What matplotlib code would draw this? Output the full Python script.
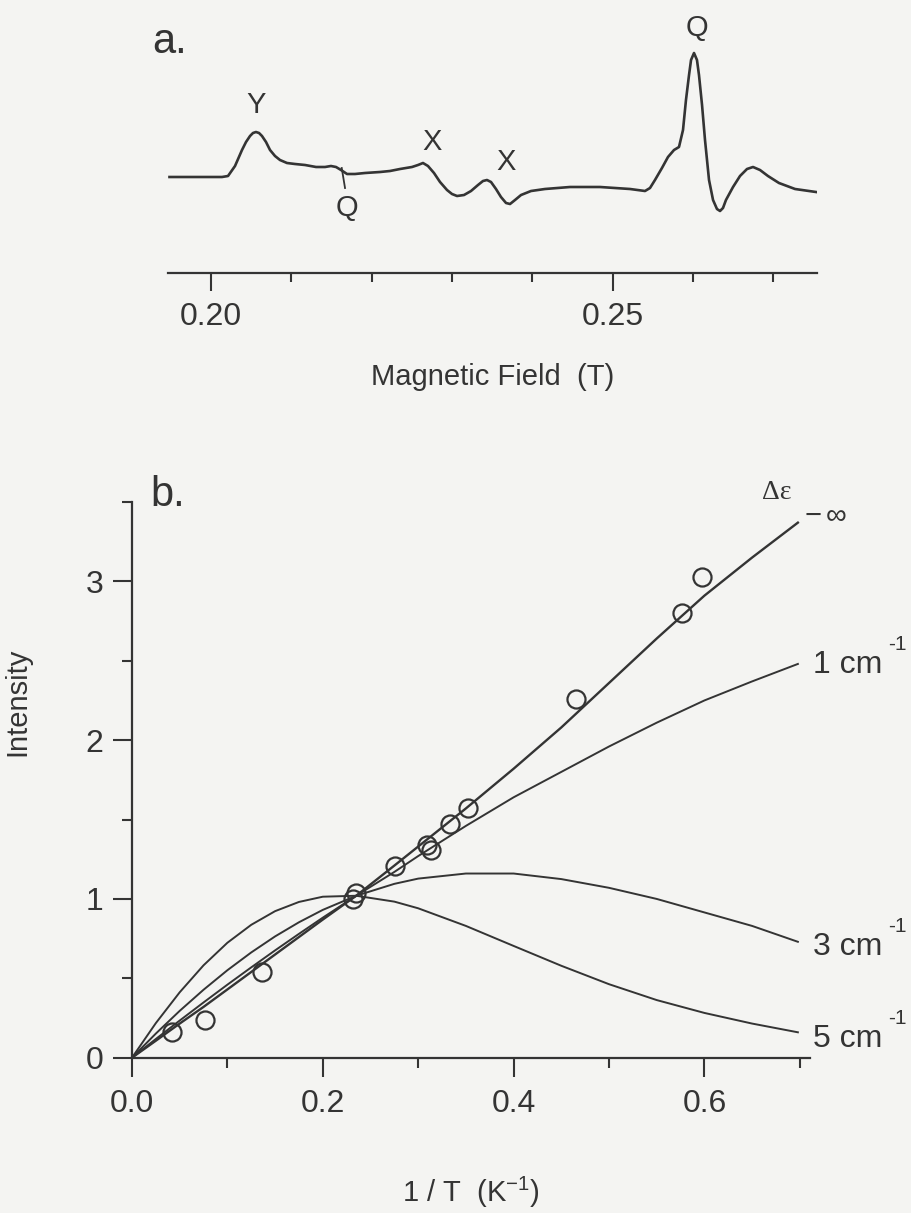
import matplotlib
matplotlib.use('Agg')
import matplotlib.pyplot as plt
from matplotlib.ticker import MultipleLocator, FormatStrFormatter

plt.rcParams['font.family'] = ['Liberation Sans', 'DejaVu Sans']
plt.rcParams['mathtext.fontset'] = 'custom'
plt.rcParams['mathtext.rm'] = 'Liberation Sans'
plt.rcParams['mathtext.it'] = 'Liberation Sans'
plt.rcParams['mathtext.default'] = 'regular'

INK   = '#343434'
PAPER = '#f4f4f2'

# ── panel a: EPR trace (field in T, signal in arbitrary units) ──
field = [0.19483, 0.19863, 0.20137, 0.20212, 0.20299, 0.20386, 0.20436, 0.20486,
         0.20523, 0.20560, 0.20598, 0.20635, 0.20685, 0.20735, 0.20797, 0.20859,
         0.20946, 0.21046, 0.21171, 0.21308, 0.21420, 0.21494, 0.21557, 0.21619,
         0.21694, 0.21793, 0.21918, 0.22105, 0.22229, 0.22354, 0.22503, 0.22578,
         0.22640, 0.22702, 0.22777, 0.22852, 0.22939, 0.23001, 0.23064, 0.23151,
         0.23238, 0.23325, 0.23387, 0.23437, 0.23487, 0.23549, 0.23611, 0.23674,
         0.23724, 0.23786, 0.23861, 0.23985, 0.24159, 0.24471, 0.24844, 0.25218,
         0.25405, 0.25467, 0.25529, 0.25616, 0.25691, 0.25766, 0.25828, 0.25878,
         0.25915, 0.25953, 0.25978, 0.26015, 0.26052, 0.26077, 0.26115, 0.26152,
         0.26202, 0.26252, 0.26301, 0.26339, 0.26376, 0.26413, 0.26501, 0.26588,
         0.26675, 0.26750, 0.26837, 0.26936, 0.27073, 0.27273, 0.27534]
signal = [0, 0, 0, 1, 11, 27, 35, 41,
          44, 45, 44, 41, 35, 27, 21, 17,
          14, 13, 12, 10, 10, 11, 10, 7,
          3, 3, 4, 5, 6, 8, 10, 12,
          14, 11, 4, -5, -13, -17, -19, -18,
          -14, -8, -4, -3, -5, -12, -20, -26,
          -27, -23, -18, -14, -12, -10, -10, -12,
          -14, -11, -3, 9, 20, 27, 30, 47,
          77, 102, 117, 124, 117, 102, 72, 37,
          -3, -23, -32, -34, -31, -23, -10, 1,
          8, 10, 7, 1, -6, -12, -15]

peak_labels = ['Y', 'Q', 'X', 'X', 'Q']
peak_field  = [0.20560, 0.21690, 0.22748, 0.23669, 0.26052]
peak_signal = [72, -31, 35, 15, 149]

# ── panel b: intensity vs 1/T ──
inv_T = [0.042, 0.077, 0.136, 0.232, 0.235, 0.276, 0.309, 0.313, 0.333, 0.352,
         0.465, 0.577, 0.598]
I_obs = [0.16, 0.24, 0.54, 1.00, 1.04, 1.21, 1.34, 1.31, 1.47, 1.57,
         2.26, 2.80, 3.03]

x_curve = [0, 0.025, 0.05, 0.075, 0.1, 0.125, 0.15, 0.175, 0.2, 0.235,
           0.275, 0.3, 0.35, 0.4, 0.45, 0.5, 0.55, 0.6, 0.65, 0.698]
I_minf = [0, 0.107, 0.215, 0.32, 0.43, 0.54, 0.65, 0.76, 0.87, 1.02,
          1.21, 1.33, 1.57, 1.82, 2.08, 2.36, 2.64, 2.91, 3.15, 3.37]
I_1cm  = [0, 0.118, 0.234, 0.348, 0.46, 0.569, 0.676, 0.78, 0.882, 1.02,
          1.17, 1.27, 1.46, 1.64, 1.80, 1.96, 2.11, 2.25, 2.37, 2.48]
I_3cm  = [0, 0.152, 0.295, 0.428, 0.551, 0.663, 0.764, 0.853, 0.931, 1.02,
          1.095, 1.128, 1.16, 1.16, 1.125, 1.07, 1.0, 0.915, 0.83, 0.73]
I_5cm  = [0, 0.218, 0.412, 0.582, 0.724, 0.837, 0.923, 0.981, 1.014, 1.02,
          0.983, 0.941, 0.830, 0.704, 0.579, 0.463, 0.363, 0.282, 0.215, 0.16]

cm_labels = ['1 cm', '3 cm', '5 cm']
cm_label_y = [2.424, 0.648, 0.07]

W, H = 911, 1213
fig = plt.figure(figsize=(W / 100, H / 100), dpi=100, facecolor=PAPER)

def box(x0, y0, x1, y1):
    # pixel box (top-left origin) -> figure fraction
    return [x0 / W, 1 - y1 / H, (x1 - x0) / W, (y1 - y0) / H]

# ── panel a ──
axa = fig.add_axes(box(168, 20, 817, 273))
axa.set_facecolor('none')
axa.plot(field, signal, color=INK, lw=1.9, solid_joinstyle='round')
axa.plot([0.21628, 0.21669], [9, -11], color=INK, lw=1.3)
for lab, fx, sy in zip(peak_labels, peak_field, peak_signal):
    axa.text(fx, sy, lab, ha='center', va='center', fontsize=21, color=INK)
axa.set_xlim(0.194645, 0.275467)
axa.set_ylim(-96, 157)
for s in ['left', 'right', 'top']:
    axa.spines[s].set_visible(False)
axa.spines['bottom'].set_color(INK)
axa.spines['bottom'].set_linewidth(1.6)
axa.set_yticks([])
axa.xaxis.set_major_locator(MultipleLocator(0.05))
axa.xaxis.set_minor_locator(MultipleLocator(0.01))
axa.xaxis.set_major_formatter(FormatStrFormatter('%.2f'))
axa.tick_params(axis='x', which='major', direction='out', length=13, width=1.5,
                colors=INK, labelsize=23, pad=8)
axa.tick_params(axis='x', which='minor', direction='out', length=6.5, width=1.5,
                colors=INK)
axa.set_xlabel('Magnetic Field  (T)', fontsize=21, color=INK, labelpad=22)
fig.text(152 / W, 1 - 42 / H, 'a.', fontsize=30, color=INK, va='center', ha='left')

# ── panel b ──
axb = fig.add_axes(box(132, 502, 810, 1057.7))
axb.set_facecolor('none')
axb.plot(x_curve, I_minf, color=INK, lw=1.7)
axb.plot(x_curve, I_1cm, color=INK, lw=1.4)
axb.plot(x_curve, I_3cm, color=INK, lw=1.4)
axb.plot(x_curve, I_5cm, color=INK, lw=1.4)
axb.plot(inv_T, I_obs, 'o', ms=13, mfc='none', mec=INK, mew=1.6)

axb.text(0.704, 3.375, r'$-\,\infty$', ha='left', va='baseline', fontsize=21, color=INK)
for lab, ly in zip(cm_labels, cm_label_y):
    t = axb.text(0.714, ly, lab, ha='left', va='baseline', fontsize=23, color=INK)
    # raised "-1" exponent, as in the original typesetting
    axb.annotate('-1', xy=(1, 1), xycoords=t, xytext=(4, -3),
                 textcoords='offset points', ha='left', va='bottom',
                 fontsize=15, color=INK)
axb.text(0.676, 3.52, 'Δε', ha='center', va='baseline', fontsize=20, color=INK,
         family=['Liberation Serif', 'DejaVu Serif'])
axb.set_xlim(0, 0.7107)
axb.set_ylim(0, 3.5)
for s in ['right', 'top']:
    axb.spines[s].set_visible(False)
for s in ['left', 'bottom']:
    axb.spines[s].set_color(INK)
    axb.spines[s].set_linewidth(1.6)
axb.xaxis.set_major_locator(MultipleLocator(0.2))
axb.xaxis.set_minor_locator(MultipleLocator(0.1))
axb.yaxis.set_major_locator(MultipleLocator(1))
axb.yaxis.set_minor_locator(MultipleLocator(0.5))
axb.xaxis.set_major_formatter(FormatStrFormatter('%.1f'))
axb.tick_params(which='major', direction='out', length=13.5, width=1.5,
                colors=INK, labelsize=23)
axb.tick_params(which='minor', direction='out', length=7, width=1.5, colors=INK)
axb.tick_params(axis='x', which='major', pad=9)
axb.tick_params(axis='y', which='major', pad=7)
axb.set_xlabel(r'1 / T  (K$^{-1}$)', fontsize=21, color=INK, labelpad=40)
axb.set_ylabel('Intensity', fontsize=21, color=INK)
axb.yaxis.set_label_coords(-0.148, 0.64)
fig.text(150 / W, 1 - 495 / H, 'b.', fontsize=30, color=INK, va='center', ha='left')

fig.savefig('out.png', dpi=100, facecolor=PAPER)
